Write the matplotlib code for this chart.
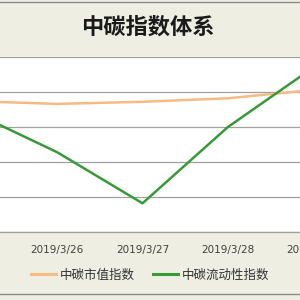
import matplotlib
matplotlib.use("Agg")
import matplotlib.pyplot as plt
from matplotlib.lines import Line2D

plt.rcParams['font.family'] = ['Noto Sans CJK SC', 'DejaVu Sans']

dates = ["2019/3/25", "2019/3/26", "2019/3/27", "2019/3/28", "2019/3/29"]
market_cap = [187, 183, 186, 191, 203]      # 中碳市值指数
liquidity = [172, 114, 41, 150, 235]        # 中碳流动性指数
yticks = [0, 50, 100, 150, 200, 250]

title = "中碳指数体系"
labels = ["中碳市值指数", "中碳流动性指数"]
c_orange = "#F8BA84"
c_green = "#379A37"
bg = "#EEEFE2"

fig = plt.figure(figsize=(3, 3), dpi=100)
fig.patch.set_facecolor(bg)

# plot area runs past the left/right edges (picture is cropped)
W, H = 300.0, 300.0
x0, x1 = -71, 356
y_top, y_bot = 57, 232
ax = fig.add_axes([x0 / W, 1 - y_bot / H, (x1 - x0) / W, (y_bot - y_top) / H])
ax.set_facecolor("white")

xs = range(len(dates))
ax.plot(xs, market_cap, color=c_orange, lw=1.8, solid_capstyle="round")
ax.plot(xs, liquidity, color=c_green, lw=1.8, solid_capstyle="round")

ax.set_xlim(-0.5, len(dates) - 0.5)
ax.set_ylim(yticks[0], yticks[-1])
ax.set_yticks(yticks)
ax.yaxis.grid(True, color="#A0A0A0", lw=0.9)
ax.set_axisbelow(True)
ax.tick_params(axis="y", left=False, labelleft=False)
ax.set_xticks(list(xs))
ax.set_xticklabels(dates, fontsize=7.5, color="#404040", family="DejaVu Sans")
ax.get_xticklabels()[0].set_visible(False)  # outside the cropped picture
ax.tick_params(axis="x", length=0, pad=9)
for s in ["left", "right", "top"]:
    ax.spines[s].set_visible(False)
ax.spines["bottom"].set_color("#A0A0A0")
ax.spines["bottom"].set_linewidth(0.9)

fig.text(0.493, 1 - 27 / H, title, ha="center", va="center",
         fontsize=16, fontweight="bold", color="#1a1a1a")

# legend
handles = [Line2D([], [], color=c_orange, lw=2.2), Line2D([], [], color=c_green, lw=2.2)]
fig.legend(handles, labels, loc="center", bbox_to_anchor=(0.5, 1 - 275 / H),
           ncol=2, frameon=False, fontsize=9, handlelength=2.0,
           handletextpad=0.3, columnspacing=1.5, labelcolor="#333333")

# outer border lines (top and bottom visible)
fig.add_artist(Line2D([0, 1], [1 - 2 / H, 1 - 2 / H], color="#8a8a8a", lw=1))
fig.add_artist(Line2D([0, 1], [1 - 293.5 / H, 1 - 293.5 / H], color="#8a8a8a", lw=1))

fig.savefig("out.png", dpi=100, facecolor=bg)
